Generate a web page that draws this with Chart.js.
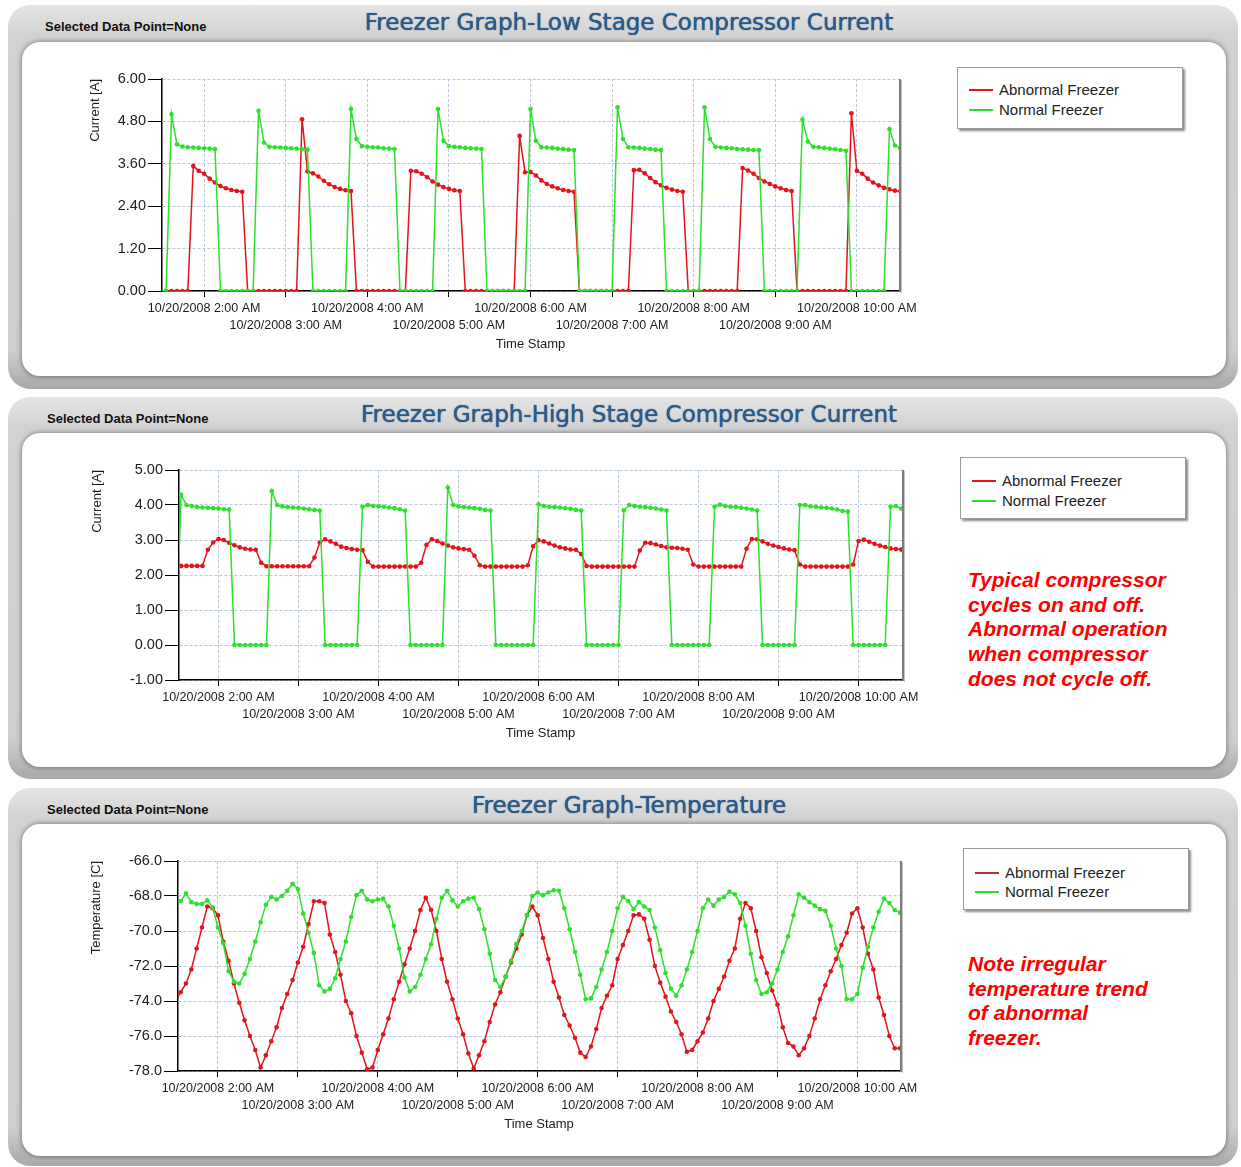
<!DOCTYPE html>
<html>
<head>
<meta charset="utf-8">
<title>Freezer Graphs</title>
<script src="https://cdn.jsdelivr.net/npm/chart.js@4.4.1/dist/chart.umd.min.js"></script>
<style>
  body { margin:0; width:1241px; height:1167px; background:#fff; position:relative; overflow:hidden;
         font-family:'Liberation Sans', Arial, sans-serif; }
  .frame { position:absolute; left:8px; width:1230px; border-radius:22px;
           background:linear-gradient(#e4e4e4, #d2d2d2 8%, #cecece 90%, #a8a8a8); }
  .inner { position:absolute; left:22px; width:1204px; border-radius:18px; background:#fff;
           box-shadow:0 0 4px 1px rgba(0,0,0,0.35); }
  .title { position:absolute; left:0; width:1258px; text-align:center; line-height:24px;
           font-family:'DejaVu Sans', sans-serif; font-size:23px; color:#2a5b8d;
           text-shadow:0 0 1px #123a66; }
  .sel { position:absolute; font-size:13px; font-weight:bold; line-height:14px; color:#111; }
  .chart { position:absolute; }
  .legend { position:absolute; width:224px; height:60px; background:#fff; border:1px solid #9a9a9a;
            box-shadow:2px 2px 2px #8c8c8c; font-size:15px; color:#222; }
  .legend div { position:absolute; left:41px; line-height:18px; }
  .legend i { position:absolute; left:11px; width:24px; height:2px; }
  .note { position:absolute; left:968px; color:#ff0000; font-weight:bold; font-style:italic;
          font-size:21px; line-height:24.7px; }
</style>
</head>
<body>

<div class="frame" style="top:5px;height:384px"></div>
<div class="inner" style="top:42px;height:334px"></div>
<div class="frame" style="top:397px;height:382px"></div>
<div class="inner" style="top:433px;height:334px"></div>
<div class="frame" style="top:788px;height:378px"></div>
<div class="inner" style="top:824px;height:332px"></div>

<div class="sel" style="left:45px;top:20px">Selected Data Point=None</div>
<div class="title" style="top:10px">Freezer Graph-Low Stage Compressor Current</div>
<div class="sel" style="left:47px;top:412px">Selected Data Point=None</div>
<div class="title" style="top:402px">Freezer Graph-High Stage Compressor Current</div>
<div class="sel" style="left:47px;top:803px">Selected Data Point=None</div>
<div class="title" style="top:793px">Freezer Graph-Temperature</div>

<div class="chart" style="left:80px;top:64px"><canvas id="lowStage" width="854" height="302"></canvas></div>
<div class="chart" style="left:82px;top:455px"><canvas id="highStage" width="855" height="300"></canvas></div>
<div class="chart" style="left:81px;top:846px"><canvas id="temperature" width="854" height="300"></canvas></div>

<div class="legend" style="left:957px;top:67px">
  <i style="top:21px;background:#e3141b"></i><div style="top:13px">Abnormal Freezer</div>
  <i style="top:41px;background:#2de02d"></i><div style="top:33px">Normal Freezer</div>
</div>
<div class="legend" style="left:960px;top:457px">
  <i style="top:22px;background:#e3141b"></i><div style="top:14px">Abnormal Freezer</div>
  <i style="top:42px;background:#2de02d"></i><div style="top:34px">Normal Freezer</div>
</div>
<div class="legend" style="left:963px;top:848px">
  <i style="top:23px;background:#b8303a"></i><div style="top:15px">Abnormal Freezer</div>
  <i style="top:42px;background:#2de02d"></i><div style="top:34px">Normal Freezer</div>
</div>

<div class="note" style="top:568px">Typical compressor<br>cycles on and off.<br>Abnormal operation<br>when compressor<br>does not cycle off.</div>
<div class="note" style="top:952px">Note irregular<br>temperature trend<br>of abnormal<br>freezer.</div>

<script>
// logger samples: first reading 1:28 AM, one reading every 4 minutes (minutes after midnight)
var SAMPLE_START = 88;
var SAMPLE_STEP = 4;

var hourTicks = [120, 180, 240, 300, 360, 420, 480, 540, 600];
var timeLabels = ['10/20/2008 2:00 AM', '10/20/2008 3:00 AM', '10/20/2008 4:00 AM',
                  '10/20/2008 5:00 AM', '10/20/2008 6:00 AM', '10/20/2008 7:00 AM',
                  '10/20/2008 8:00 AM', '10/20/2008 9:00 AM', '10/20/2008 10:00 AM'];

var currentTicksLow = [0, 1.2, 2.4, 3.6, 4.8, 6];
var currentTicksHigh = [-1, 0, 1, 2, 3, 4, 5];
var tempTicks = [-78, -76, -74, -72, -70, -68, -66];

// low stage compressor current [A]
var lowAbnormal = [0,0,0,0,0,0, 3.54,3.40,3.32,3.18,3.07,2.97,2.91,2.86,2.83,2.81,
  0,0,0,0,0,0,0,0,0,0, 4.86,3.38,3.33,3.24,3.12,3.02,2.94,2.89,2.85,2.83,
  0,0,0,0,0,0,0,0,0,0, 3.40,3.39,3.32,3.22,3.10,3.01,2.94,2.89,2.85,2.83,
  0,0,0,0,0,0,0,0,0,0, 4.39,3.36,3.37,3.27,3.13,3.03,2.96,2.91,2.86,2.83,2.81,
  0,0,0,0,0,0,0,0,0,0, 3.42,3.43,3.33,3.20,3.08,2.99,2.92,2.87,2.83,2.81,
  0,0,0,0,0,0,0,0,0,0, 3.48,3.41,3.32,3.20,3.10,3.03,2.96,2.91,2.86,2.83,
  0,0,0,0,0,0,0,0,0,0, 5.03,3.40,3.32,3.18,3.07,2.99,2.92,2.88,2.84,2.82];
var lowNormal = [0,0, 5.0,4.15,4.09,4.07,4.06,4.05,4.04,4.03,4.02, 0,0,0,0,0,0,0,
  5.1,4.2,4.08,4.07,4.06,4.05,4.04,4.03,4.01,4.0, 0,0,0,0,0,0,0,
  5.15,4.3,4.1,4.08,4.07,4.06,4.04,4.03,4.02, 0,0,0,0,0,0,0,
  5.15,4.25,4.1,4.08,4.07,4.05,4.04,4.03,4.02, 0,0,0,0,0,0,0,0,
  5.15,4.25,4.07,4.06,4.05,4.03,4.02,4.0,3.99, 0,0,0,0,0,0,0,
  5.2,4.3,4.07,4.06,4.05,4.03,4.02,4.0,3.99, 0,0,0,0,0,0,0,
  5.2,4.3,4.08,4.06,4.05,4.04,4.02,4.01,4.0,3.99,3.99, 0,0,0,0,0,0,0,
  4.85,4.23,4.08,4.07,4.05,4.03,4.01,3.99,3.97, 0,0,0,0,0,0,0, 4.58,4.12,4.05];

// high stage compressor current [A]
var highAbnormal = [2.26,2.26,2.26,2.26,2.26,2.26, 2.72,2.93,3.03,3.0,2.92,2.85,2.79,2.75,2.73,2.72,2.35,
  2.25,2.25,2.25,2.25,2.25,2.25,2.25,2.25,2.25, 2.5,2.93,3.02,2.96,2.89,2.81,2.77,2.74,2.72,2.71,2.38,
  2.24,2.24,2.24,2.24,2.24,2.24,2.24,2.24,2.24, 2.35,2.86,3.02,2.97,2.9,2.84,2.79,2.76,2.74,2.72,2.55,2.28,
  2.24,2.24,2.24,2.24,2.24,2.24,2.24,2.24, 2.28,2.82,3.0,2.96,2.9,2.84,2.79,2.76,2.73,2.72,2.6,2.26,
  2.24,2.24,2.24,2.24,2.24,2.24,2.24,2.24,2.24, 2.7,2.92,2.91,2.87,2.83,2.79,2.78,2.77,2.75,2.72,2.3,
  2.24,2.24,2.24,2.24,2.24,2.24,2.24,2.24,2.24, 2.75,3.03,3.02,2.96,2.89,2.84,2.8,2.76,2.73,2.71,2.3,
  2.24,2.24,2.24,2.24,2.24,2.24,2.24,2.24,2.24, 2.3,2.97,3.01,2.95,2.89,2.84,2.8,2.76,2.74,2.73];
var highNormal = [0, 4.29,4.0,3.97,3.94,3.93,3.92,3.91,3.9,3.88,3.87, 0,0,0,0,0,0,0,
  4.4,4.0,3.96,3.94,3.93,3.92,3.9,3.88,3.86,3.84, 0,0,0,0,0,0,0,
  3.95,4.0,3.97,3.96,3.95,3.93,3.91,3.88,3.84, 0,0,0,0,0,0,0,
  4.5,4.0,3.96,3.94,3.93,3.91,3.89,3.86,3.84, 0,0,0,0,0,0,0,0,
  4.02,3.97,3.95,3.94,3.93,3.91,3.89,3.86,3.84, 0,0,0,0,0,0,0,
  3.85,4.0,3.97,3.95,3.94,3.92,3.9,3.87,3.84, 0,0,0,0,0,0,0,0,
  3.95,4.01,3.97,3.95,3.94,3.92,3.9,3.87,3.84, 0,0,0,0,0,0,0,
  4.0,4.0,3.96,3.95,3.93,3.92,3.9,3.87,3.83,3.81, 0,0,0,0,0,0,0, 3.95,3.97,3.9];

// freezer temperature [C]
var tempAbnormal = [-74.0,-73.5,-73.0,-72.2,-71.0,-69.8,-68.6,-68.7,-69.1,-70.6,
  -71.7,-73.0,-74.1,-75.1,-76.0,-76.8,-77.8,-77.1,-76.3,-75.5,
  -74.4,-73.6,-72.8,-71.8,-70.9,-69.6,-68.3,-68.3,-68.4,-70.2,
  -71.2,-72.5,-74.0,-74.7,-76.0,-76.95,-77.9,-77.8,-76.8,-75.9,
  -75.0,-73.9,-72.9,-71.9,-71.0,-70.0,-68.8,-68.1,-68.8,-70.0,
  -71.6,-72.9,-73.9,-75.0,-75.9,-77.0,-77.85,-77.1,-76.3,-75.2,
  -74.2,-73.5,-72.6,-71.8,-71.0,-70.2,-69.1,-68.6,-69.1,-70.4,
  -71.6,-72.9,-73.8,-74.8,-75.4,-76.1,-76.95,-77.2,-76.6,-75.6,
  -74.4,-73.7,-73.1,-71.6,-70.8,-70.0,-69.1,-69.05,-69.3,-70.5,
  -72.0,-72.95,-73.75,-74.6,-75.2,-75.9,-76.9,-76.8,-76.3,-75.8,
  -75.0,-74.0,-73.3,-72.6,-71.7,-71.0,-69.3,-68.4,-68.7,-70.0,
  -71.5,-72.4,-73.4,-74.2,-75.5,-76.4,-76.6,-77.1,-76.7,-76.0,
  -75.0,-73.9,-73.1,-72.3,-71.6,-70.8,-70.1,-69.0,-68.7,-69.8,
  -71.3,-72.2,-73.8,-74.8,-76.0,-76.7,-76.7];
var tempNormal = [-68.4,-68.3,-67.85,-68.35,-68.45,-68.45,-68.25,-68.65,-69.8,-70.7,
  -72.3,-72.9,-73.0,-72.45,-71.6,-70.6,-69.5,-68.5,-68.05,-68.2,
  -68.0,-67.7,-67.3,-67.6,-69.0,-70.1,-71.25,-73.1,-73.45,-73.3,
  -72.7,-71.6,-70.6,-69.2,-67.95,-67.7,-68.2,-68.3,-68.2,-68.15,
  -68.6,-69.7,-71.0,-72.65,-73.45,-73.2,-72.5,-71.6,-70.75,-69.3,
  -68.1,-67.7,-68.25,-68.6,-68.3,-68.15,-68.1,-68.75,-69.9,-71.3,
  -72.8,-73.2,-72.6,-71.7,-70.75,-70.0,-69.1,-68.0,-67.8,-67.95,
  -67.8,-67.67,-67.7,-68.7,-69.9,-71.2,-72.5,-73.9,-73.85,-73.2,
  -72.2,-71.2,-70.0,-68.7,-68.05,-68.3,-68.75,-68.35,-68.6,-68.8,
  -69.8,-71.1,-72.4,-73.3,-73.7,-73.1,-72.2,-71.2,-70.0,-68.7,
  -68.2,-68.55,-68.2,-68.05,-67.75,-67.9,-68.4,-69.7,-71.3,-72.8,
  -73.6,-73.5,-73.0,-72.2,-71.2,-70.3,-69.1,-67.9,-68.1,-68.35,
  -68.55,-68.75,-68.85,-69.7,-71.0,-72.0,-73.9,-73.9,-73.6,-72.1,
  -70.9,-69.8,-68.9,-68.15,-68.4,-68.8,-68.95];

var RED = '#e3141b';
var GREEN = '#2de02d';

function toPoints(values) {
    return values.map(function(v, i) { return {x: SAMPLE_START + i * SAMPLE_STEP, y: v}; });
}

// dark shadow along the right side of the plot, like the original control
var plotShadow = {
    id: 'plotShadow',
    afterDatasetsDraw: function(chart) {
        var ctx = chart.ctx, a = chart.chartArea;
        ctx.save();
        ctx.fillStyle = '#7d7d7d';
        ctx.fillRect(a.right, a.top, 2, a.bottom - a.top + 1);
        ctx.fillStyle = '#c4c4c4';
        ctx.fillRect(a.right + 2, a.top + 1, 1, a.bottom - a.top + 1);
        ctx.restore();
    }
};

function drawChart(id, opt) {
    var gridColor = '#b7c8d8';
    return new Chart(document.getElementById(id), {
        type: 'line',
        data: {
            datasets: [{
                label: 'Abnormal Freezer',
                data: toPoints(opt.abnormal),
                borderColor: RED, backgroundColor: RED,
                borderWidth: 1.5, pointRadius: 2.3, pointBorderWidth: 0,
                order: 1
            }, {
                label: 'Normal Freezer',
                data: toPoints(opt.normal),
                borderColor: GREEN, backgroundColor: GREEN,
                borderWidth: 1.5, pointRadius: 2.3, pointBorderWidth: 0,
                order: 0
            }]
        },
        options: {
            responsive: false,
            devicePixelRatio: 1,
            animation: false,
            events: [],
            layout: { padding: { left: 4, top: 15, right: 35, bottom: 10 } },
            plugins: { legend: { display: false }, tooltip: { enabled: false } },
            scales: {
                x: {
                    type: 'linear', min: opt.xMin, max: opt.xMax,
                    afterBuildTicks: function(s) { s.ticks = hourTicks.map(function(v) { return {value: v}; }); },
                    afterFit: function(s) { s.height = 65; },
                    grid: { color: gridColor, tickColor: '#000', tickLength: 6 },
                    border: { color: '#000', width: 1.5, dash: [3, 2] },
                    ticks: {
                        autoSkip: false, maxRotation: 0, minRotation: 0, padding: 3, color: '#1c1c1c',
                        font: { size: 12.5, lineHeight: 1.35 },
                        callback: function(v, i) { return i % 2 ? ['', timeLabels[i]] : timeLabels[i]; }
                    },
                    title: { display: true, text: 'Time Stamp', color: '#1c1c1c', font: { size: 13 },
                             padding: { top: 4, bottom: 4 } }
                },
                y: {
                    min: opt.yTicks[0], max: opt.yTicks[opt.yTicks.length - 1],
                    afterBuildTicks: function(s) { s.ticks = opt.yTicks.map(function(v) { return {value: v}; }); },
                    afterFit: function(s) { s.width = opt.yWidth; },
                    grid: { color: gridColor, tickColor: '#000', tickLength: 14 },
                    border: { color: '#000', width: 1.5, dash: [3, 2] },
                    ticks: { padding: 2, color: '#1c1c1c', font: { size: 14.5 },
                             callback: function(v) { return v.toFixed(opt.decimals); } },
                    title: { display: true, text: opt.yTitle, align: 'end', color: '#1c1c1c',
                             font: { size: 13 }, padding: { top: 4, bottom: 4 } }
                }
            }
        },
        plugins: [plotShadow]
    });
}

drawChart('lowStage', { abnormal: lowAbnormal, normal: lowNormal, yTicks: currentTicksLow, decimals: 2,
    yTitle: 'Current [A]', yWidth: 78, xMin: 89, xMax: 631 });
drawChart('highStage', { abnormal: highAbnormal, normal: highNormal, yTicks: currentTicksHigh, decimals: 2,
    yTitle: 'Current [A]', yWidth: 93, xMin: 90.4, xMax: 632.6 });
drawChart('temperature', { abnormal: tempAbnormal, normal: tempNormal, yTicks: tempTicks, decimals: 1,
    yTitle: 'Temperature [C]', yWidth: 93, xMin: 90, xMax: 632 });
</script>
</body>
</html>
